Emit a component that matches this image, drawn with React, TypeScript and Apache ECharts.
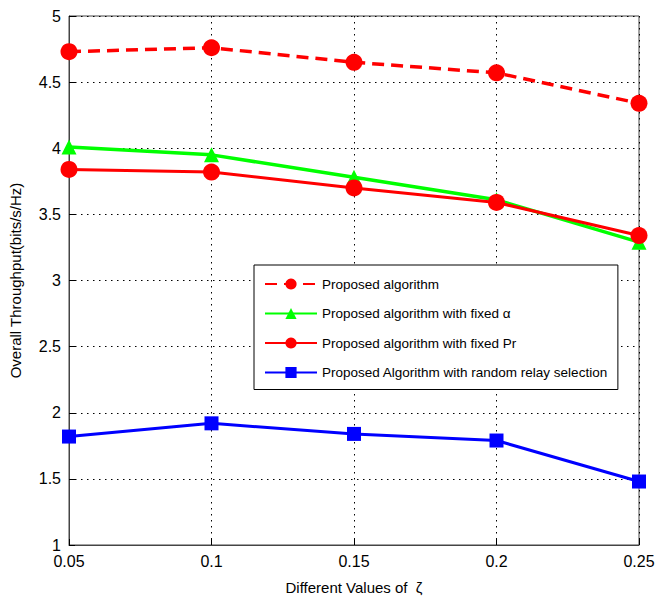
import React, { useEffect, useRef } from "react";
import * as echarts from "echarts";

const xValues = [0.05, 0.1, 0.15, 0.2, 0.25];
const proposed = [4.73, 4.76, 4.65, 4.57, 4.34];
const fixedAlpha = [4.01, 3.95, 3.78, 3.61, 3.29];
const fixedPr = [3.84, 3.82, 3.7, 3.59, 3.34];
const randomRelay = [1.82, 1.92, 1.84, 1.79, 1.48];

const seriesNames = [
  "Proposed algorithm",
  "Proposed algorithm with fixed α",
  "Proposed algorithm with fixed Pr",
  "Proposed Algorithm with random relay selection",
];

const FONT = "'Liberation Sans', Arial, sans-serif";

const pair = (ys: number[]) => xValues.map((x, i) => [x, ys[i]]);

export default function App() {
  const ref = useRef<HTMLDivElement>(null);
  useEffect(() => {
    if (!ref.current) return;
    document.body.style.margin = "0";
    const chart = echarts.init(ref.current, undefined, { renderer: "svg" });
    chart.setOption({
      animation: false,
      backgroundColor: "#fff",
      grid: {
        left: 67,
        right: 31,
        top: 16,
        bottom: 61,
        show: true,
        borderColor: "#444",
        borderWidth: 1,
        backgroundColor: "transparent",
      },
      legend: {
        orient: "vertical",
        left: 254,
        top: 265,
        padding: [12, 10, 10, 10],
        backgroundColor: "#fff",
        borderColor: "#000",
        borderWidth: 1,
        itemWidth: 52,
        itemHeight: 14,
        itemGap: 15.5,
        textStyle: { fontFamily: FONT, fontSize: 13.5, color: "#000" },
        data: seriesNames,
      },
      xAxis: {
        type: "value",
        min: 0.05,
        max: 0.25,
        interval: 0.05,
        name: "Different Values of  ζ",
        nameLocation: "middle",
        nameGap: 35,
        nameTextStyle: { fontFamily: FONT, fontSize: 15, color: "#000" },
        axisLine: { show: true, lineStyle: { color: "#444" } },
        axisTick: { show: true, inside: true, length: 6, lineStyle: { color: "#000" } },
        axisLabel: {
          fontFamily: FONT,
          fontSize: 16,
          color: "#000",
          margin: 8,
          formatter: (v: number) => String(+v.toFixed(2)),
        },
        splitLine: { show: true, lineStyle: { color: "#000", type: [1.5, 4.5], width: 1 } },
      },
      yAxis: {
        type: "value",
        min: 1,
        max: 5,
        interval: 0.5,
        name: "Overall Throughput(bits/s/Hz)",
        nameLocation: "middle",
        nameGap: 46,
        nameTextStyle: { fontFamily: FONT, fontSize: 15, color: "#000" },
        axisLine: { show: true, lineStyle: { color: "#444" } },
        axisTick: { show: true, inside: true, length: 6, lineStyle: { color: "#000" } },
        axisLabel: { fontFamily: FONT, fontSize: 16, color: "#000", margin: 8 },
        splitLine: { show: true, lineStyle: { color: "#000", type: [1.5, 4.5], width: 1 } },
      },
      series: [
        {
          name: seriesNames[0],
          type: "line",
          data: pair(proposed),
          symbol: "circle",
          symbolSize: 17,
          lineStyle: { color: "#ff0000", width: 3.5, type: [12, 7] },
          itemStyle: { color: "#ff0000" },
          z: 4,
        },
        {
          name: seriesNames[1],
          type: "line",
          data: pair(fixedAlpha),
          symbol: "triangle",
          symbolSize: 15,
          lineStyle: { color: "#00ff00", width: 3.5 },
          itemStyle: { color: "#00ff00" },
          z: 2,
        },
        {
          name: seriesNames[2],
          type: "line",
          data: pair(fixedPr),
          symbol: "circle",
          symbolSize: 17,
          lineStyle: { color: "#ff0000", width: 3 },
          itemStyle: { color: "#ff0000" },
          z: 3,
        },
        {
          name: seriesNames[3],
          type: "line",
          data: pair(randomRelay),
          symbol: "rect",
          symbolSize: 14,
          lineStyle: { color: "#0000ff", width: 3 },
          itemStyle: { color: "#0000ff" },
          z: 2,
        },
      ],
    });
    return () => chart.dispose();
  }, []);
  return <div ref={ref} style={{ width: 670, height: 606 }} />;
}
